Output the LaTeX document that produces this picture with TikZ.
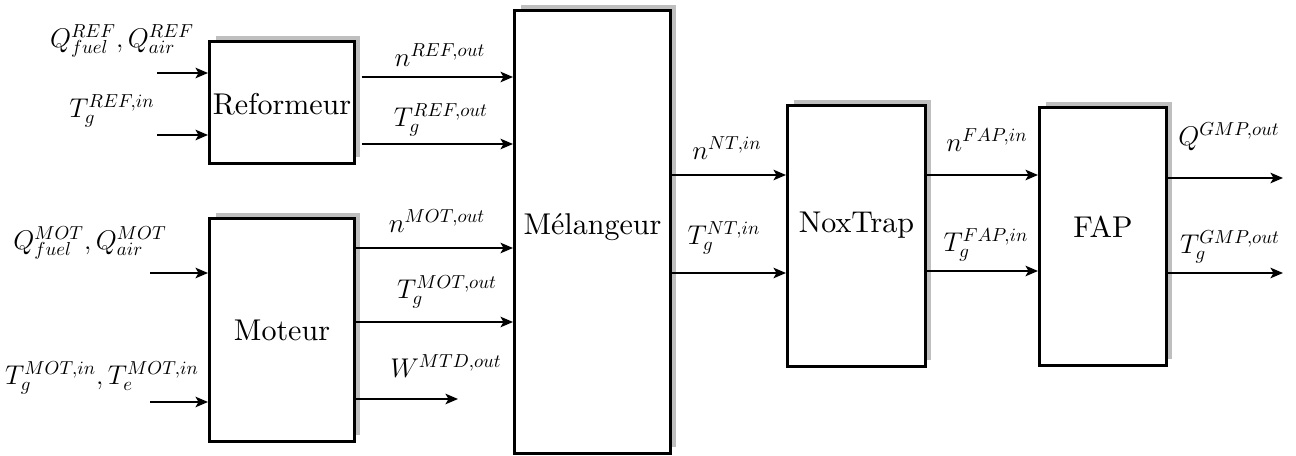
\documentclass[tikz,border=0pt]{standalone}
\usetikzlibrary{arrows.meta,shadows,calc}
\newcommand\lbtxt[1]{\scalebox{1.07}{\Large$#1$}}
\newcommand\bxtxt[1]{\scalebox{1.71}{#1}}
\begin{document}
\begin{tikzpicture}[x=0.02cm,y=-0.02cm,
  blk/.style={draw, line width=1.7pt, fill=white, inner sep=0pt,
    general shadow={fill=black!25, shadow xshift=0.12cm, shadow yshift=0.12cm}},
  arr/.style={line width=1.15pt, -{Stealth[length=2.5mm,width=2.1mm,inset=0.6mm]}},
  lbl/.style={inner sep=0pt}]
\useasboundingbox (0,0) rectangle (1296,456);
% blocks
\node[blk, minimum width=2.9cm, minimum height=2.44cm, text height=0.75cm, text depth=0.25cm] (ref) at (282,102.5) {\bxtxt{Reformeur}};
\node[blk, minimum width=2.9cm, minimum height=4.46cm, text height=0.72cm, text depth=0.28cm] (mot) at (282,330) {\bxtxt{Moteur}};
\node[blk, minimum width=3.12cm, minimum height=8.86cm, text height=0.545cm, text depth=0.455cm] (mel) at (592.5,232) {\bxtxt{Mélangeur}};
\node[blk, minimum width=2.76cm, minimum height=5.22cm, text height=0.42cm, text depth=0.58cm] (nox) at (856.5,236) {\bxtxt{NoxTrap}};
\node[blk, minimum width=2.54cm, minimum height=5.16cm, text height=0.53cm, text depth=0.47cm] (fap) at (1103,236.5) {\bxtxt{FAP}};
% free ends
\coordinate (rin1) at (157,73);
\coordinate (rin2) at (157,135);
\coordinate (min1) at (150,273);
\coordinate (min2) at (150,402);
\coordinate (wout) at (458,399);
\coordinate (fout1) at (1283,178);
\coordinate (fout2) at (1283,273);
% arrows
\draw[arr] (rin1) -- (ref.west |- rin1);
\draw[arr] (rin2) -- (ref.west |- rin2);
\draw[arr] ($(ref.east |- 0,77)+(6,0)$) -- (mel.west |- 0,77);
\draw[arr] ($(ref.east |- 0,144)+(6,0)$) -- (mel.west |- 0,144);
\draw[arr] (min1) -- (mot.west |- min1);
\draw[arr] (min2) -- (mot.west |- min2);
\draw[arr] (mot.east |- 0,248) -- (mel.west |- 0,248);
\draw[arr] (mot.east |- 0,322) -- (mel.west |- 0,322);
\draw[arr] (mot.east |- wout) -- (wout);
\draw[arr] (mel.east |- 0,175) -- (nox.west |- 0,175);
\draw[arr] (mel.east |- 0,273) -- (nox.west |- 0,273);
\draw[arr] (nox.east |- 0,175) -- (fap.west |- 0,175);
\draw[arr] (nox.east |- 0,271) -- (fap.west |- 0,271);
\draw[arr] (fap.east |- fout1) -- (fout1);
\draw[arr] (fap.east |- fout2) -- (fout2);
% labels
\node[lbl] (l1) at (122,41) {\lbtxt{Q^{REF}_{fuel},Q^{REF}_{air}}};
\node[lbl] (l2) at (112,111) {\lbtxt{T_g^{REF,in}}};
\node[lbl] (l3) at (440,55) {\lbtxt{n^{REF,out}}};
\node[lbl] (l4) at (441,120) {\lbtxt{T_g^{REF,out}}};
\node[lbl] (l5) at (90,243) {\lbtxt{Q^{MOT}_{fuel},Q^{MOT}_{air}}};
\node[lbl] (l6) at (102,378) {\lbtxt{T_g^{MOT,in},T_e^{MOT,in}}};
\node[lbl] (l7) at (437,221) {\lbtxt{n^{MOT,out}}};
\node[lbl] (l8) at (447,292) {\lbtxt{T_g^{MOT,out}}};
\node[lbl] (l9) at (446,366) {\lbtxt{W^{MTD,out}}};
\node[lbl] (l10) at (727,148) {\lbtxt{n^{NT,in}}};
\node[lbl] (l11) at (724,238) {\lbtxt{T_g^{NT,in}}};
\node[lbl] (l12) at (987,140) {\lbtxt{n^{FAP,in}}};
\node[lbl] (l13) at (986,245) {\lbtxt{T_g^{FAP,in}}};
\node[lbl] (l14) at (1229,137) {\lbtxt{Q^{GMP,out}}};
\node[lbl] (l15) at (1230,247) {\lbtxt{T_g^{GMP,out}}};
\end{tikzpicture}
\end{document}
